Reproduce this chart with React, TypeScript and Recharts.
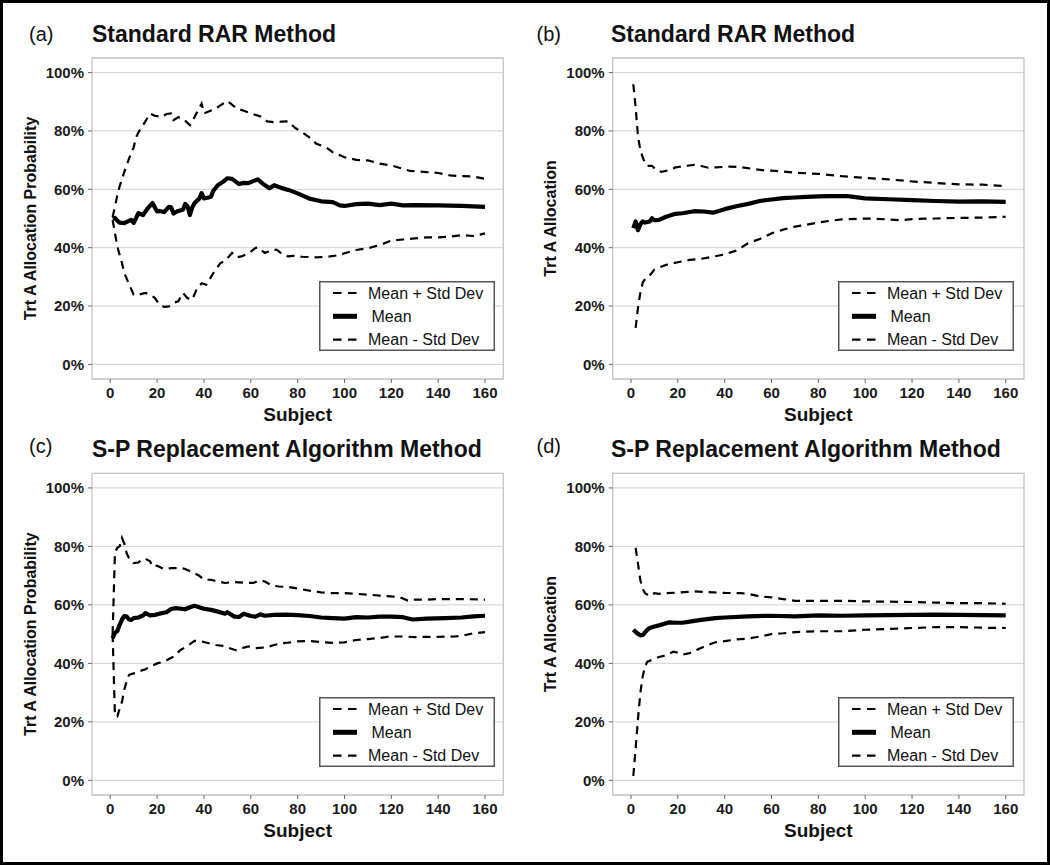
import React from 'react';
import { LineChart, Line, XAxis, YAxis, CartesianGrid, ReferenceArea, Legend } from 'recharts';

type Pt = [number, number];

const SUBJECT_TICKS = [0, 20, 40, 60, 80, 100, 120, 140, 160];
const PCT_TICKS = [0, 20, 40, 60, 80, 100];
const SERIES_NAMES = ['Mean + Std Dev', 'Mean', 'Mean - Std Dev'];

// (a) Standard RAR, allocation probability
const aUpper: Pt[] = [[1,50.5],[2,54],[3,58],[4,61],[6,66],[8,70.5],[10,74.4],[11,77.8],[12,79.5],[14,82],[17,86],[19,85.2],[22,84.8],[24,85.8],[26,86],[27,83.7],[29,84.7],[31,84.3],[34,82],[36,84.8],[39,89.4],[40,86],[43,87],[45,87.7],[50,90.3],[54,87.7],[57,86.9],[60,86],[64,85],[67,83.3],[70,83],[73,83.2],[76,83.3],[79,81],[82,79.5],[85,77.8],[88,75.6],[92,74.4],[95,72.7],[100,71],[105,70.1],[110,69.9],[115,68.8],[120,68.2],[125,67],[128,66.3],[135,65.9],[140,65.6],[145,64.8],[150,64.5],[155,64.4],[160,63.6]];
const aMean: Pt[] = [[1,50],[2,50.2],[3,49.3],[4,48.6],[6,48.4],[8,49.2],[9,49.5],[10,48.5],[12,51.8],[14,51.2],[16,53.5],[18,55.3],[20,52.4],[21,52.6],[23,52.2],[25,54],[26,53.8],[27,51.7],[29,52.6],[31,53],[32,55],[33,54.2],[34,51.2],[35,53.8],[36,55.3],[38,56.8],[39,58.7],[40,56.9],[42,57.2],[43,57.5],[44,59.5],[46,61.5],[48,62.5],[50,63.8],[52,63.6],[55,61.8],[57,62.2],[59,62.1],[61,62.8],[63,63.4],[65,62],[68,60.4],[70,61.4],[73,60.5],[76,59.8],[80,58.6],[85,56.8],[90,55.9],[95,55.6],[98,54.5],[100,54.3],[105,54.9],[110,55.1],[115,54.6],[120,55.1],[125,54.5],[130,54.6],[140,54.5],[150,54.3],[160,54]];
const aLower: Pt[] = [[1,49.5],[2,45],[3,40.4],[5,34.7],[6,31.3],[8,27.5],[10,23.9],[12,23.9],[15,24.5],[17,23.9],[19,22.8],[21,20.5],[23,19.7],[25,19.9],[27,21.1],[29,21.6],[31,24.5],[33,22.7],[35,22.2],[37,26],[39,27.8],[41,27.3],[42,28.5],[44,31.3],[47,34.7],[49,35.5],[52,38.2],[54,36.7],[56,37],[59,38],[62,39.9],[63,40.1],[66,38.2],[69,39.2],[71,39.3],[74,37.5],[76,37],[78,37.2],[82,36.9],[88,36.7],[93,36.9],[98,37.5],[100,38.1],[105,39.2],[110,39.8],[115,40.9],[120,42.4],[125,42.8],[130,43.2],[135,43.5],[140,43.5],[145,43.8],[150,44.3],[155,44],[160,44.9]];

// (b) Standard RAR, allocation
const bUpper: Pt[] = [[1,96],[2,88],[3,78],[4,73.5],[5,71],[6,69],[7,68],[9,68],[11,66.5],[13,66],[16,66.5],[19,67.5],[23,68],[27,68.4],[30,68],[33,67.4],[36,67.5],[42,67.8],[47,67.6],[52,67],[57,66.5],[62,66.3],[70,65.7],[80,65.3],[90,64.5],[100,63.9],[110,63.4],[120,62.7],[130,62.2],[140,61.7],[150,61.6],[160,61.1]];
const bMean: Pt[] = [[1,46.7],[2,49],[3,46],[4,48],[5,49],[6,48.6],[8,49],[9,50.1],[10,49.4],[12,49.5],[15,50.6],[19,51.6],[22,51.8],[27,52.5],[31,52.4],[35,52],[40,53.2],[45,54.2],[50,55],[55,56],[60,56.5],[65,57],[70,57.2],[75,57.4],[80,57.6],[85,57.7],[92,57.7],[95,57.4],[100,56.9],[110,56.6],[120,56.3],[130,56],[140,55.8],[150,55.9],[160,55.7]];
const bLower: Pt[] = [[2,12.5],[3,19.5],[4,24.5],[5,28],[6,29.2],[8,30.5],[10,32.5],[12,33.2],[15,34.1],[20,35],[25,35.8],[30,36.2],[35,36.9],[40,37.7],[45,39],[50,41.5],[55,43],[60,44.9],[65,46.2],[70,47.2],[75,47.9],[80,48.6],[85,49.2],[90,49.7],[100,50],[110,49.7],[115,49.4],[120,49.8],[130,50],[140,50.2],[150,50.3],[160,50.6]];

// (c) S-P replacement, allocation probability
const cUpper: Pt[] = [[1,50],[2,78],[3,79.5],[4,80],[5,82.9],[6,81],[7,77.7],[8,76],[10,74.3],[12,74.5],[14,75.7],[15,75.8],[17,74.9],[18,73.1],[20,73.4],[23,72.2],[26,72.6],[30,72.6],[32,72.3],[35,71.2],[38,70],[40,68.6],[43,68.6],[46,68],[49,67.5],[52,67.8],[55,67.7],[58,67.5],[61,67.5],[64,68.4],[66,68],[69,66.6],[72,66.3],[76,66.1],[80,65.6],[85,64.9],[90,64.3],[95,64],[100,64],[105,63.8],[110,63.5],[115,63.2],[120,62.9],[123,62.8],[127,61.5],[130,61.8],[135,61.8],[140,62],[150,62],[160,61.8]];
const cMean: Pt[] = [[1,48.6],[2,50.5],[3,51],[4,53.2],[5,55],[6,56.2],[7,56],[8,55],[9,54.9],[10,55.5],[12,55.7],[14,56.4],[15,57.2],[17,56.4],[19,56.6],[21,57],[24,57.5],[26,58.6],[28,58.9],[32,58.5],[34,59.2],[36,59.7],[38,59.2],[40,58.7],[43,58.3],[46,57.7],[49,57],[50,57.5],[53,56],[55,55.9],[57,57],[60,56.2],[62,56],[64,56.8],[66,56.3],[70,56.6],[75,56.7],[80,56.5],[85,56.2],[90,55.7],[95,55.5],[100,55.3],[105,55.8],[110,55.7],[115,56],[120,56],[125,55.8],[129,55],[135,55.3],[143,55.5],[150,55.7],[155,56.1],[160,56.3]];
const cLower: Pt[] = [[1,50],[2,22],[3,21.8],[4,24.5],[5,26.9],[6,31],[7,34],[8,36.1],[10,36.6],[12,37.2],[15,38],[17,38.9],[20,40],[23,40.6],[25,41.5],[27,42.3],[30,44.6],[33,46],[36,47.7],[38,47.7],[40,47.3],[42,46.9],[45,46.3],[48,46],[51,45.2],[54,44.4],[57,45.4],[59,45.8],[62,45.2],[65,45.4],[68,45.8],[70,46.3],[73,46.9],[76,47.1],[80,47.5],[85,47.7],[90,47.3],[95,47],[100,47.2],[105,48],[110,48.3],[115,48.7],[119,49.2],[125,49.2],[130,49],[136,49.1],[140,49.1],[147,49.2],[150,49.4],[155,50.3],[160,50.7]];

// (d) S-P replacement, allocation
const dUpper: Pt[] = [[2,79.5],[3,74],[4,68.5],[5,65.5],[6,64],[7,63.5],[8,63],[10,64],[12,63.8],[14,64],[20,64.2],[27,64.6],[35,64.3],[40,64.1],[47,64],[50,63.8],[55,62.9],[60,62.6],[65,62],[70,61.4],[80,61.4],[90,61.4],[100,61.2],[110,61.1],[120,61],[130,60.8],[140,60.6],[150,60.6],[160,60.4]];
const dMean: Pt[] = [[1,51.5],[2,50.8],[3,50.1],[4,49.6],[5,49.7],[6,50.6],[7,51.5],[8,52.1],[10,52.6],[12,53],[16,54],[20,53.9],[22,53.9],[25,54.3],[30,54.9],[36,55.5],[40,55.7],[50,56.1],[60,56.3],[70,56.1],[80,56.4],[90,56.3],[100,56.4],[110,56.5],[120,56.6],[130,56.7],[140,56.6],[150,56.5],[160,56.4]];
const dLower: Pt[] = [[1,1.5],[2,11],[3,21],[4,30],[5,35.5],[6,39],[7,40.6],[9,41.2],[12,42.2],[15,42.8],[18,44],[20,43.7],[22,43],[25,43.5],[28,44.6],[32,46],[36,47.2],[40,47.6],[45,48.2],[50,48.5],[55,49.2],[60,50],[65,50.3],[70,50.7],[80,51],[90,51],[100,51.5],[110,51.8],[120,52.1],[130,52.4],[140,52.4],[150,52.2],[160,52.1]];

const FONT = '"Liberation Sans", Arial, Helvetica, sans-serif';
const X_DOMAIN: [number, number] = [-7.8, 167.8];
const Y_DOMAIN: [number, number] = [-5, 105];

const toRows = (pts: Pt[]) => pts.map(([subject, pct]) => ({ subject, pct }));

const LegendBox = () => (
  <svg width={176} height={70} style={{ display: 'block' }}>
    <rect x={0.75} y={0.75} width={174.5} height={68.5} fill="#fff" stroke="#555" strokeWidth={1.5} />
    {SERIES_NAMES.map((name, i) => {
      const y = 12 + i * 23.3;
      const isMean = i === 1;
      return (
        <g key={name}>
          <line x1={14} x2={38} y1={y} y2={y} stroke="#000"
            strokeWidth={isMean ? 5 : 2.2} strokeDasharray={isMean ? undefined : '8.5 6.5'} />
          <text x={isMean ? 52.5 : 49} y={y} dominantBaseline="central" fontSize={16}
            fontFamily={FONT} fill="#111">{name}</text>
        </g>
      );
    })}
  </svg>
);

interface PanelProps {
  left: number;
  top: number;
  height: number;
  tag: string;
  title: string;
  yLabel: string;
  upper: Pt[];
  mean: Pt[];
  lower: Pt[];
  plotLeft: number;
  plotRight: number;
  plotTop: number;
  plotBottom: number;
  tagX: number;
  tagY: number;
  titleX: number;
  titleY: number;
  yLabelX: number;
  xLabelY: number;
  legendX: number;
  legendY: number;
}

const W = 525;

const Panel: React.FC<PanelProps> = (p) => {
  const tick = { fontSize: 15, fontWeight: 700, fill: '#1a1a1a', fontFamily: FONT };
  const midX = (p.plotLeft + p.plotRight) / 2;
  const midY = (p.plotTop + p.plotBottom) / 2;
  return (
    <div style={{ position: 'absolute', left: p.left, top: p.top, width: W, height: p.height }}>
      <LineChart
        width={W}
        height={p.height}
        margin={{ top: p.plotTop, right: W - p.plotRight, left: 0, bottom: 0 }}
      >
        <CartesianGrid vertical={false} stroke="#d9d9d9" strokeWidth={1.2} />
        <ReferenceArea x1={X_DOMAIN[0]} x2={X_DOMAIN[1]} y1={Y_DOMAIN[0]} y2={Y_DOMAIN[1]}
          fill="none" stroke="#c6c6c6" strokeWidth={1.3} />
        <XAxis type="number" dataKey="subject" domain={X_DOMAIN} ticks={SUBJECT_TICKS}
          allowDataOverflow height={p.height - p.plotBottom} axisLine={false}
          tickSize={4} tickMargin={4} tickLine={{ stroke: '#666' }} tick={tick} />
        <YAxis type="number" domain={Y_DOMAIN} ticks={PCT_TICKS} allowDataOverflow
          width={p.plotLeft} axisLine={false} tickSize={4} tickMargin={4}
          tickLine={{ stroke: '#666' }} tick={tick} tickFormatter={(v: number) => `${v}%`} />
        <Line data={toRows(p.upper)} dataKey="pct" name={SERIES_NAMES[0]} type="linear"
          stroke="#000" strokeWidth={2.2} strokeDasharray="8 6" dot={false} isAnimationActive={false} />
        <Line data={toRows(p.lower)} dataKey="pct" name={SERIES_NAMES[2]} type="linear"
          stroke="#000" strokeWidth={2.2} strokeDasharray="8 6" dot={false} isAnimationActive={false} />
        <Line data={toRows(p.mean)} dataKey="pct" name={SERIES_NAMES[1]} type="linear"
          stroke="#000" strokeWidth={4.2} strokeLinejoin="round" dot={false} isAnimationActive={false} />
        <Legend layout="vertical" align="center" verticalAlign="middle"
          content={() => <LegendBox />}
          wrapperStyle={{ left: p.legendX, top: p.legendY, width: 176, height: 70 }} />
      </LineChart>
      <svg width={W} height={p.height}
        style={{ position: 'absolute', left: 0, top: 0, pointerEvents: 'none' }}>
        <text x={p.tagX} y={p.tagY} fontSize={20} fontFamily={FONT} fill="#111">{p.tag}</text>
        <text x={p.titleX} y={p.titleY} fontSize={23} fontWeight={700} fontFamily={FONT} fill="#111">{p.title}</text>
        <text transform={`translate(${p.yLabelX},${midY}) rotate(-90)`} textAnchor="middle"
          dominantBaseline="central" fontSize={16} fontWeight={700} fontFamily={FONT} fill="#111">{p.yLabel}</text>
        <text x={midX} y={p.xLabelY} textAnchor="middle" fontSize={19} fontWeight={700}
          fontFamily={FONT} fill="#111">Subject</text>
      </svg>
    </div>
  );
};

const App: React.FC = () => {
  const top = { height: 430, plotTop: 58, plotBottom: 379, tagY: 40.5, titleY: 42, xLabelY: 421, legendY: 281 };
  const bottom = { height: 435, plotTop: 43.3, plotBottom: 365, tagY: 22.5, titleY: 26.5, xLabelY: 407, legendY: 266.7 };
  const leftCol = { plotLeft: 92, plotRight: 503.3, tagX: 29, titleX: 92, yLabelX: 30, legendX: 319 };
  const rightCol = { plotLeft: 87.7, plotRight: 499, tagX: 11.5, titleX: 86, yLabelX: 25, legendX: 313.3 };
  return (
    <div style={{ position: 'absolute', left: 0, top: 0, width: 1050, height: 865, background: '#fff', overflow: 'hidden' }}>
      <Panel left={0} top={0} {...top} {...leftCol} tag="(a)" title="Standard RAR Method"
        yLabel="Trt A Allocation Probability" upper={aUpper} mean={aMean} lower={aLower} />
      <Panel left={525} top={0} {...top} {...rightCol} tag="(b)" title="Standard RAR Method"
        yLabel="Trt A Allocation" upper={bUpper} mean={bMean} lower={bLower} />
      <Panel left={0} top={430} {...bottom} {...leftCol} tag="(c)" title="S-P Replacement Algorithm Method"
        yLabel="Trt A Allocation Probability" upper={cUpper} mean={cMean} lower={cLower} />
      <Panel left={525} top={430} {...bottom} {...rightCol} tag="(d)" title="S-P Replacement Algorithm Method"
        yLabel="Trt A Allocation" upper={dUpper} mean={dMean} lower={dLower} />
      <div style={{ position: 'absolute', inset: 0, border: '3px solid #000', boxSizing: 'border-box', pointerEvents: 'none' }} />
    </div>
  );
};

export default App;
